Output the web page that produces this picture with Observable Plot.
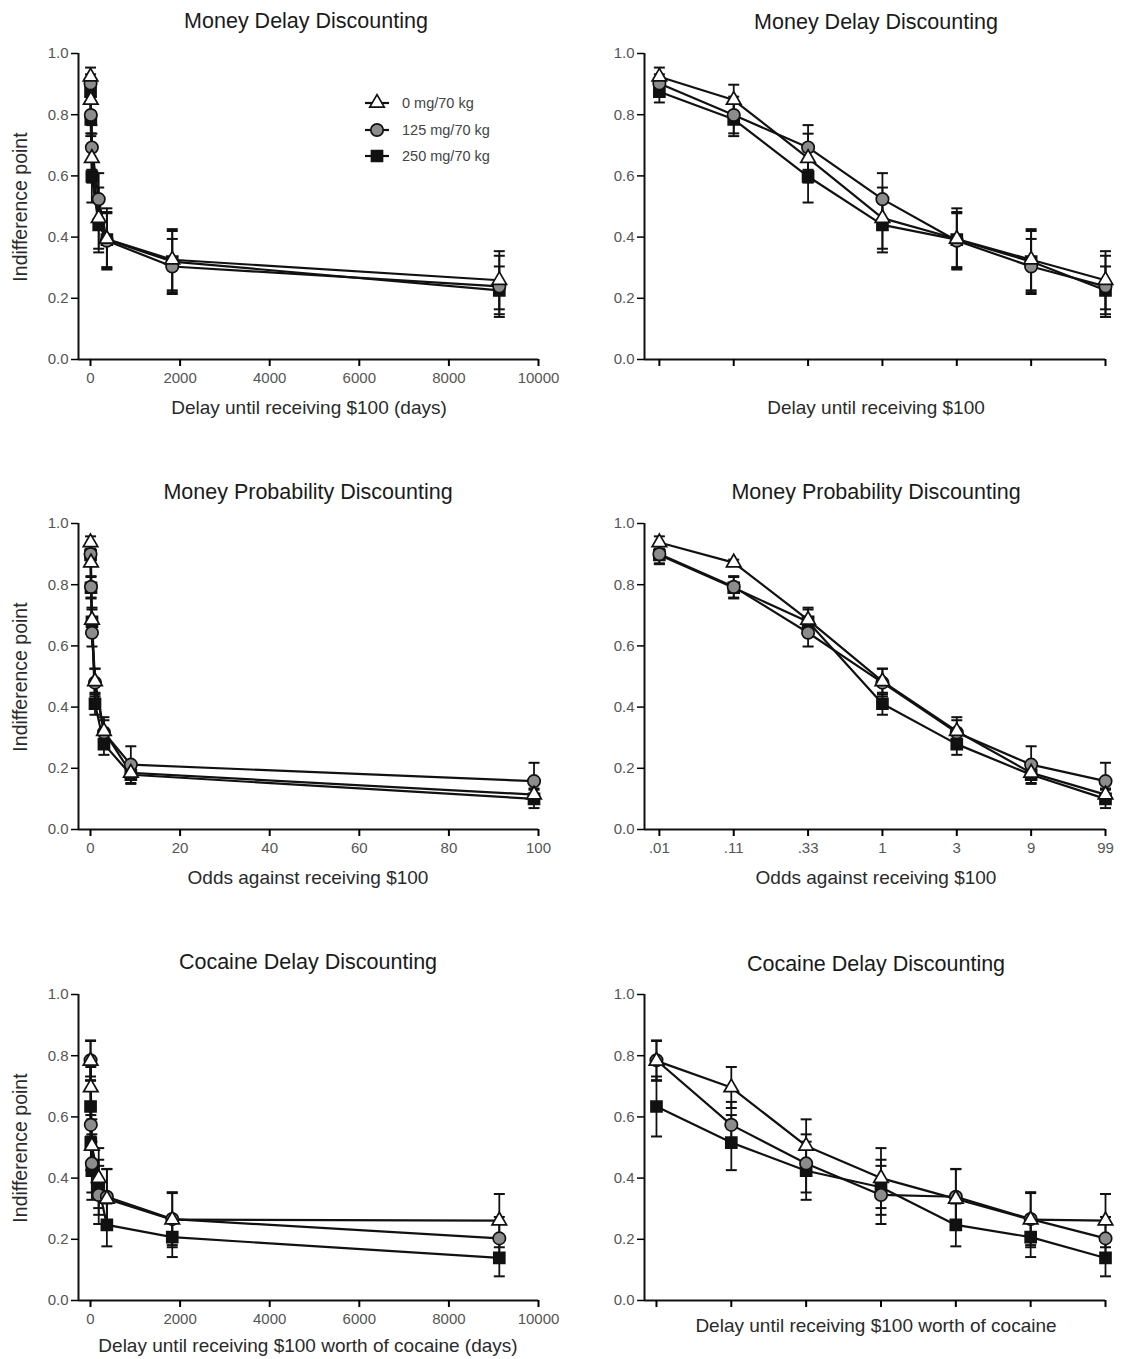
<!DOCTYPE html>
<html><head><meta charset="utf-8">
<script src="https://cdn.jsdelivr.net/npm/d3@7"></script>
<script src="https://cdn.jsdelivr.net/npm/@observablehq/plot@0.6"></script>
<style>
body{margin:0;background:#fff;}
#root{position:relative;width:1125px;height:1359px;overflow:hidden;font-family:"Liberation Sans",Arial,sans-serif;background:#fff;}
.t{position:absolute;transform:translate(-50%,-50%);white-space:nowrap;color:#1a1a1a;}
.title{font-size:21.5px;}
.xl{font-size:19px;color:#2a2a2a;}
.yl{font-size:19.5px;color:#2a2a2a;transform:translate(-50%,-50%) rotate(-90deg);}
.panel{position:absolute;}
.panel svg [aria-label$="tick label"]{fill:#555 !important;}
.legend{position:absolute;font-size:14.5px;color:#444;}
.legend div{height:26.5px;display:flex;align-items:center;}
.legend svg{margin-right:12px;}
</style></head><body><div id="root"></div>
<script>
// ---- data ----
const seriesNames = ["0 mg/70 kg", "125 mg/70 kg", "250 mg/70 kg"];
const delayDays = [1, 7, 30, 183, 365, 1825, 9125];
const odds = [0.01, 0.11, 0.33, 1, 3, 9, 99];
const oddsLabels = [".01", ".11", ".33", "1", "3", "9", "99"];
const yTicks = [0, 0.2, 0.4, 0.6, 0.8, 1.0];
const delayTicks = [0, 2000, 4000, 6000, 8000, 10000];
const oddsTicks = [0, 20, 40, 60, 80, 100];

const md0 = [0.924, 0.848, 0.658, 0.462, 0.394, 0.326, 0.259];
const md125 = [0.902, 0.799, 0.693, 0.524, 0.388, 0.304, 0.239];
const md250 = [0.875, 0.785, 0.598, 0.440, 0.392, 0.320, 0.226];
const mdE0 = [0.030, 0.050, 0.080, 0.100, 0.100, 0.100, 0.095];
const mdE125 = [0.030, 0.060, 0.073, 0.085, 0.090, 0.090, 0.100];
const mdE250 = [0.035, 0.055, 0.085, 0.090, 0.090, 0.100, 0.078];

const mp0 = [0.938, 0.872, 0.685, 0.484, 0.321, 0.185, 0.114];
const mp125 = [0.900, 0.793, 0.643, 0.480, 0.317, 0.212, 0.158];
const mp250 = [0.897, 0.790, 0.679, 0.411, 0.279, 0.179, 0.100];
const mpE0 = [0.020, 0.010, 0.040, 0.042, 0.046, 0.020, 0.020];
const mpE125 = [0.030, 0.035, 0.045, 0.045, 0.040, 0.060, 0.060];
const mpE250 = [0.030, 0.035, 0.040, 0.036, 0.035, 0.030, 0.030];

const cd0 = [0.783, 0.696, 0.505, 0.400, 0.332, 0.264, 0.261];
const cd125 = [0.785, 0.574, 0.448, 0.345, 0.339, 0.266, 0.203];
const cd250 = [0.634, 0.516, 0.424, 0.370, 0.247, 0.207, 0.139];
const cdE0 = [0.065, 0.067, 0.087, 0.098, 0.098, 0.090, 0.087];
const cdE125 = [0.065, 0.075, 0.095, 0.095, 0.090, 0.085, 0.070];
const cdE250 = [0.098, 0.090, 0.095, 0.090, 0.070, 0.065, 0.060];

// ---- helpers ----
function rows(xs, ys, es) {
  const out = [];
  [2, 1, 0].forEach(s => {
    ys[s].forEach((v, i) => out.push({s, name: seriesNames[s], x: xs[i], i, y: v, e: es[s][i]}));
  });
  return out;
}
const capSym = {draw(ctx, size) { const w = Math.sqrt(size / Math.PI); ctx.moveTo(-w, 0); ctx.lineTo(w, 0); }};
const symStyle = [
  {symbol: "triangle", r: 5.4, fill: "#fff"},
  {symbol: "circle", r: 6.2, fill: "#8c8c8c"},
  {symbol: "square", r: 6.2, fill: "#111"}
];

const root = document.getElementById("root");

function panel(o) {
  const xf = o.useIndex ? (d => d.i) : (d => d.x);
  const data = o.data;
  const marks = [
    Plot.ruleY([0], {stroke: "#111", strokeWidth: 2}),
    Plot.ruleX([o.xDomain[0]], {stroke: "#111", strokeWidth: 2}),
    Plot.axisY({ticks: yTicks, tickFormat: d3.format(".1f"), tickSize: 7, tickPadding: 3, strokeWidth: 1.5, fontSize: 15, label: null}),
    Plot.axisX({ticks: o.xTicks, tickFormat: o.xFormat, tickSize: 7, tickPadding: 6, strokeWidth: 2, fontSize: 15, label: null})
  ];
  [2, 1, 0].forEach(s => {
    marks.push(Plot.line(data.filter(d => d.s === s), {x: xf, y: "y", stroke: "#111", strokeWidth: 2.2}));
  });
  marks.push(Plot.ruleX(data, {x: xf, y1: d => d.y - d.e, y2: d => d.y + d.e, stroke: "#111", strokeWidth: 1.8}));
  marks.push(Plot.dot(data, {x: xf, y: d => d.y + d.e, symbol: capSym, r: 5.5, stroke: "#111", fill: "none", strokeWidth: 2}));
  marks.push(Plot.dot(data, {x: xf, y: d => d.y - d.e, symbol: capSym, r: 5.5, stroke: "#111", fill: "none", strokeWidth: 2}));
  [2, 1, 0].forEach(s => {
    const st = symStyle[s];
    marks.push(Plot.dot(data.filter(d => d.s === s), {x: xf, y: "y", symbol: st.symbol, r: st.r, fill: st.fill, stroke: "#111", strokeWidth: 1.7}));
  });
  const svg = Plot.plot({
    width: o.width, height: o.height,
    marginTop: o.mt, marginBottom: o.mb, marginLeft: o.ml, marginRight: o.mr,
    style: {background: "transparent", fontFamily: '"Liberation Sans", Arial, sans-serif', fontSize: "15px", overflow: "visible"},
    x: {type: "linear", domain: o.xDomain},
    y: {domain: [0, 1]},
    marks
  });
  const div = document.createElement("div");
  div.className = "panel";
  div.style.left = o.left + "px";
  div.style.top = o.top + "px";
  div.appendChild(svg);
  root.appendChild(div);
}

function text(cls, str, x, y) {
  const d = document.createElement("div");
  d.className = "t " + cls;
  d.textContent = str;
  d.style.left = x + "px";
  d.style.top = y + "px";
  root.appendChild(d);
}

const rowTops = [0, 470, 941];
const datasets = [
  {title: "Money Delay Discounting", d: rows(delayDays, [md0, md125, md250], [mdE0, mdE125, mdE250]),
   lx: delayTicks, lDom: [-268, 10000], lLabel: "Delay until receiving $100 (days)", rLabel: "Delay until receiving $100",
   rFormat: () => "", titleL: [306, 21], titleR: [876, 22], labL: [309, 408], labR: [876, 408], rStart: -0.2},
  {title: "Money Probability Discounting", d: rows(odds, [mp0, mp125, mp250], [mpE0, mpE125, mpE250]),
   lx: oddsTicks, lDom: [-2.68, 100], lLabel: "Odds against receiving $100", rLabel: "Odds against receiving $100",
   rFormat: d => oddsLabels[d], titleL: [308, 492], titleR: [876, 492], labL: [308, 878], labR: [876, 878], rStart: -0.2},
  {title: "Cocaine Delay Discounting", d: rows(delayDays, [cd0, cd125, cd250], [cdE0, cdE125, cdE250]),
   lx: delayTicks, lDom: [-268, 10000], lLabel: "Delay until receiving $100 worth of cocaine (days)", rLabel: "Delay until receiving $100 worth of cocaine",
   rFormat: () => "", titleL: [308, 962], titleR: [876, 964], labL: [308, 1346], labR: [876, 1326], rStart: -0.16}
];

datasets.forEach((ds, r) => {
  const top = rowTops[r];
  panel({left: 0, top, width: 560, height: 420, mt: 53, mb: 61, ml: 78, mr: 22,
    xDomain: ds.lDom, xTicks: ds.lx, xFormat: d3.format("d"), data: ds.d, useIndex: false});
  panel({left: 560, top, width: 565, height: 420, mt: 53, mb: 61, ml: 84, mr: 20,
    xDomain: [ds.rStart, 6], xTicks: [0, 1, 2, 3, 4, 5, 6], xFormat: ds.rFormat, data: ds.d, useIndex: true});
  text("title", ds.title, ds.titleL[0], ds.titleL[1]);
  text("title", ds.title, ds.titleR[0], ds.titleR[1]);
  text("xl", ds.lLabel, ds.labL[0], ds.labL[1]);
  text("xl", ds.rLabel, ds.labR[0], ds.labR[1]);
  text("yl", "Indifference point", 20, top + 207);
});

// legend
const leg = document.createElement("div");
leg.className = "legend";
leg.style.left = "364px";
leg.style.top = "90px";
[0, 1, 2].forEach(s => {
  const row = document.createElement("div");
  const st = symStyle[s];
  const sym = d3.symbol(st.symbol === "triangle" ? d3.symbolTriangle : st.symbol === "circle" ? d3.symbolCircle : d3.symbolSquare, Math.PI * st.r * st.r)();
  row.innerHTML = `<svg width="26" height="16" viewBox="-13 -8 26 16" style="overflow:visible">
    <line x1="-12" x2="12" y1="0" y2="0" stroke="#111" stroke-width="2.2"/>
    <path d="${sym}" fill="${st.fill}" stroke="#111" stroke-width="1.7"/></svg><span>${seriesNames[s]}</span>`;
  leg.appendChild(row);
});
root.appendChild(leg);
</script></body></html>
